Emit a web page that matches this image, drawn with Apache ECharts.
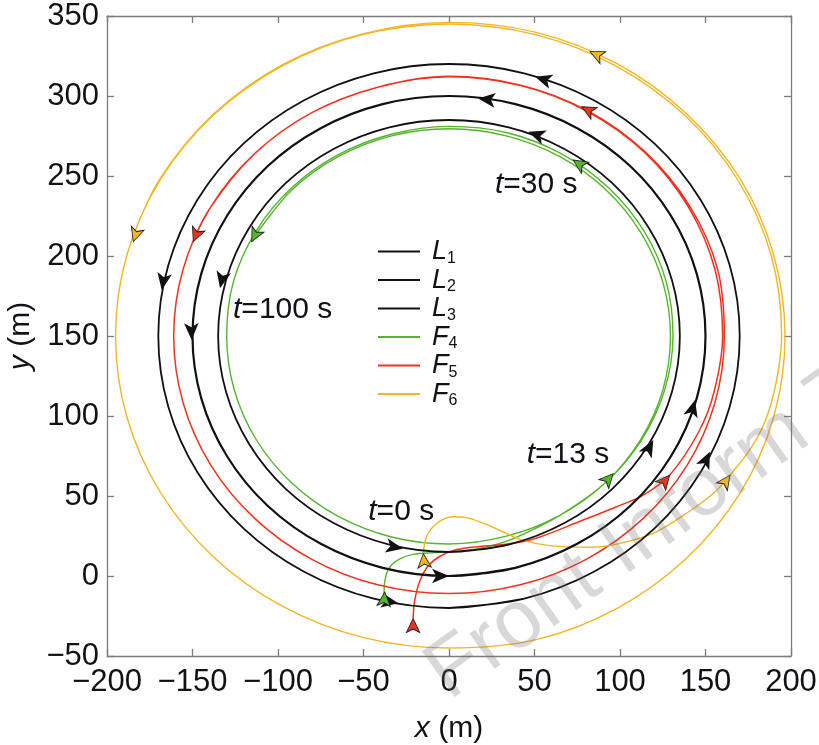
<!DOCTYPE html>
<html>
<head>
<meta charset="utf-8">
<script src="https://cdn.jsdelivr.net/npm/echarts@6/dist/echarts.min.js"></script>
<style>html,body{margin:0;padding:0;background:#fff}#c{width:819px;height:745px}</style>
</head>
<body>
<div id="c"></div>
<script>
// ---- data (metres) ----
const xTicks = [-200, 200, 50];
const yTicks = [-50, 350, 50];

const seriesNames = ['L1', 'L2', 'L3', 'F4', 'F5', 'F6'];

const L1 = [[0,-20],[44,-14.2],[85,2.8],[120.2,29.8],[147.2,65],[164.2,106],[170,150],[164.2,194],[147.2,235],[120.2,270.2],[85,297.2],[44,314.2],[0,320],[-44,314.2],[-85,297.2],[-120.2,270.2],[-147.2,235],[-164.2,194],[-170,150],[-164.2,106],[-147.2,65],[-120.2,29.8],[-85,2.8],[-44,-14.2],[0,-20],[44,-14.2]];
const L2 = [[0,0],[38.8,5.1],[75,20.1],[106.1,43.9],[129.9,75],[144.9,111.2],[150,150],[144.9,188.8],[129.9,225],[106.1,256.1],[75,279.9],[38.8,294.9],[0,300],[-38.8,294.9],[-75,279.9],[-106.1,256.1],[-129.9,225],[-144.9,188.8],[-150,150],[-144.9,111.2],[-129.9,75],[-106.1,43.9],[-75,20.1],[-38.8,5.1],[0,0],[38.8,5.1]];
const L3 = [[0,15],[34.9,19.6],[67.5,33.1],[95.5,54.5],[116.9,82.5],[130.4,115.1],[135,150],[130.4,184.9],[116.9,217.5],[95.5,245.5],[67.5,266.9],[34.9,280.4],[0,285],[-34.9,280.4],[-67.5,266.9],[-95.5,245.5],[-116.9,217.5],[-130.4,184.9],[-135,150],[-130.4,115.1],[-116.9,82.5],[-95.5,54.5],[-67.5,33.1],[-34.9,19.6],[0,15],[34.9,19.6]];
const F4 = [[-38,-12],[-37.5,-3],[-35,5],[-29,10.5],[-21,13.5],[-8,14.6],[10,16],[25,19],[40,24.5],[64.8,37.9],[91.6,58.4],[112.6,85],[126.1,116.2],[131,150],[127,184],[113.9,215.8],[93,243],[65.8,263.9],[34,277],[0,281],[-33.8,276.1],[-65.3,263],[-92.3,242.3],[-113,215.3],[-126.1,183.8],[-130,150],[-125.6,116.4],[-112.6,85],[-91.9,58.1],[-65,37.4],[-33.6,24.4],[0,20],[33.5,24.9],[64.8,37.9],[91.6,58.4],[112.1,85.3],[125.1,116.5],[129.5,150],[125.1,183.5],[112.1,214.8],[91.6,241.6],[64.8,262.1],[33.5,275.1],[0,279.5],[-33.5,275.1],[-64.8,262.1],[-91.6,241.6],[-112.1,214.8],[-115.4,208.8]];
const F5 = [[-21,-26.5],[-20,-15],[-17,-3],[-12,6.5],[-5,12.5],[4.5,16.5],[18,18.5],[30,19.5],[49,23],[78.5,35],[98,43.3],[113.6,50.6],[129,63],[146,90],[155,115],[160,150],[155.5,191.7],[139.9,230.8],[114.6,264.6],[81,290.3],[41.9,306.5],[0,312],[-41.7,305.5],[-80.5,289.4],[-113.8,263.8],[-139.4,230.5],[-155.5,191.7],[-161,150],[-155.5,108.3],[-139.4,69.5],[-113.8,36.2],[-80.5,10.6],[-41.7,-5.5],[0,-11],[41.7,-5.5],[80.5,10.6],[113.8,36.2],[139.4,69.5],[155.5,108.3],[161,150],[157,192],[140.7,231.3],[114.9,264.9],[81.25,290.7],[42,306.8],[0,312.3],[-41.7,305.5],[-80.5,289.4],[-113.8,263.8],[-139.4,230.5],[-149.3,210.3]];
const F6 = [[-15,14],[-13,25],[-7,33],[2,37],[10,36.5],[20,33],[31.8,27.5],[43.5,22.3],[59,19],[84,18],[100,20.4],[120,27],[140,40],[155,52],[164.3,63],[176,79],[185,97],[191.6,122.5],[194.5,150],[188.4,200.5],[168.9,247.5],[137.9,287.9],[97.5,318.9],[50.5,338.4],[0,345],[-50.5,338.4],[-97.5,318.9],[-137.9,287.9],[-168.9,247.5],[-188.4,200.5],[-195,150],[-188.4,99.5],[-168.9,52.5],[-137.9,12.1],[-97.5,-18.9],[-50.5,-38.4],[0,-45],[50.9,-39.8],[98.3,-20.2],[138.9,11.1],[170.2,51.8],[189.8,99.1],[196.5,150],[189.8,200.9],[170.2,248.3],[138.9,288.9],[98.3,320.2],[50.9,339.8],[0,346],[-50.6,338.8],[-97.8,319.3],[-138.2,288.2],[-169.3,247.8],[-185.5,210.3]];

// arrow markers at t = 0, 13, 30, 100 s : [x, y, heading in degrees]
const arrowsL1 = [[-29.7,-17,-10],[152.6,77.7,64.6],[50.3,312,162.7],[-168,178.8,260]];
const arrowsL2 = [[0,0,0],[143.9,110,74.5],[17.1,298.5,173.4],[-150.5,147.5,271]];
const arrowsL3 = [[-27,17,-11.5],[119.5,85,61.5],[46.4,277.7,160],[-133.9,179.8,257.5]];
const arrowsF4 = [[-37.5,-10,85],[96,64,48],[72.7,260,146.5],[-115.4,209,243]];
const arrowsF5 = [[-21,-26.5,90],[129,63,50],[77.6,293.3,151.6],[-149.5,209,248]];
const arrowsF6 = [[-15,14,95],[164.3,63,55],[82.5,327.7,155],[-184.6,209,252]];

const annoText = ['t=0 s', 't=13 s', 't=30 s', 't=100 s'];
const annoX = [-47.2, 45.4, 26.9, -126.3];
const annoY = [40, 75.6, 244.4, 166.6];

// ---- styles ----
const FONT = 'Liberation Sans';
const TXT = '#111118';
const AX = '#7c7c7c';
const colors = {L1:'#111111', L2:'#111111', L3:'#111111', F4:'#55b52d', F5:'#f2321f', F6:'#f4b622'};
const widths = {L1:1.8, L2:2.2, L3:1.8, F4:1.4, F5:1.5, F6:1.4};
const paths = {L1, L2, L3, F4, F5, F6};
const arrows = {L1:arrowsL1, L2:arrowsL2, L3:arrowsL3, F4:arrowsF4, F5:arrowsF5, F6:arrowsF6};

const minus = v => String(v).replace('-', '\u2212');
const richItal = {
  i: {fontStyle:'italic', fontFamily:FONT, fontSize:30, color:TXT},
  n: {fontFamily:FONT, fontSize:30, color:TXT}
};

const series = [];
seriesNames.forEach(n => {
  series.push({
    name:n, type:'line', data:paths[n], smooth:0.35, symbol:'none', showSymbol:false,
    lineStyle:{color:colors[n], width:widths[n]}, itemStyle:{color:colors[n]},
    z: n[0] === 'L' ? 3 : 2, silent:true
  });
});
seriesNames.forEach(n => {
  const leader = n[0] === 'L';
  series.push({
    type:'scatter', symbol:'arrow',
    symbolSize: leader ? [11,17] : [10,14],
    data: arrows[n].map(a => ({value:[a[0], a[1]], symbolRotate: a[2] - 90})),
    itemStyle:{color:colors[n], opacity:1, borderColor:'#222', borderWidth: leader ? 0 : 0.9},
    z:5, silent:true
  });
});
series.push({
  type:'scatter', symbolSize:0, silent:true, z:6,
  itemStyle:{opacity:1},
  data: annoText.map((t, k) => ({value:[annoX[k], annoY[k]], name:t})),
  label:{show:true, position:'right', distance:0,
    formatter: p => '{i|t}{n|' + p.name.slice(1) + '}', rich:richItal}
});

const axisCommon = {
  type:'value', splitLine:{show:false},
  axisLine:{show:true, onZero:false, lineStyle:{color:AX, width:1.3}},
  axisTick:{show:true, inside:true, length:7, lineStyle:{color:AX, width:1.3}}
};

const option = {
  animation:false,
  backgroundColor:'#ffffff',
  grid:{left:107, right:28, top:16, bottom:89, containLabel:false, outerBoundsMode:'none'},
  xAxis:[
    Object.assign({}, axisCommon, {min:xTicks[0], max:xTicks[1], interval:xTicks[2], position:'bottom',
      axisLabel:{color:TXT, fontSize:31, fontFamily:FONT, margin:11, formatter:minus},
      name:'{i|x}{n| (m)}', nameLocation:'middle', nameGap:58,
      nameTextStyle:{rich:richItal}}),
    Object.assign({}, axisCommon, {min:xTicks[0], max:xTicks[1], interval:xTicks[2], position:'top',
      axisLabel:{show:false}})
  ],
  yAxis:[
    Object.assign({}, axisCommon, {min:yTicks[0], max:yTicks[1], interval:yTicks[2], position:'left',
      axisLabel:{color:TXT, fontSize:31, fontFamily:FONT, margin:8, formatter:minus},
      name:'{i|y}{n| (m)}', nameLocation:'middle', nameGap:66, nameRotate:90,
      nameTextStyle:{rich:richItal}}),
    Object.assign({}, axisCommon, {min:yTicks[0], max:yTicks[1], interval:yTicks[2], position:'right',
      axisLabel:{show:false}})
  ],
  legend:{
    data:seriesNames.map(n => ({name:n, icon:'rect', itemStyle:{color:colors[n]}})),
    orient:'vertical', left:378, top:238, padding:0, itemGap:0,
    itemWidth:42, itemHeight:2, selectedMode:false,
    formatter: name => '{i|' + name[0] + '}{s|' + name.slice(1) + '}',
    textStyle:{color:TXT, rich:{
      i:{fontStyle:'italic', fontFamily:FONT, fontSize:27, lineHeight:30, color:TXT, padding:[0,0,0,7]},
      s:{fontFamily:FONT, fontSize:16, lineHeight:12, verticalAlign:'bottom', color:TXT}
    }}
  },
  graphic:[{
    type:'text', x:460, y:716, rotation:0.62, z:100, silent:true,
    style:{text:'Front Inform Technol Electron Eng', fontSize:82, fontFamily:FONT,
      fill:'rgba(110,110,110,0.27)', align:'left', verticalAlign:'bottom'}
  }],
  series:series
};

const chart = echarts.init(document.getElementById('c'), null, {renderer:'canvas'});
chart.setOption(option);
</script>
</body>
</html>
